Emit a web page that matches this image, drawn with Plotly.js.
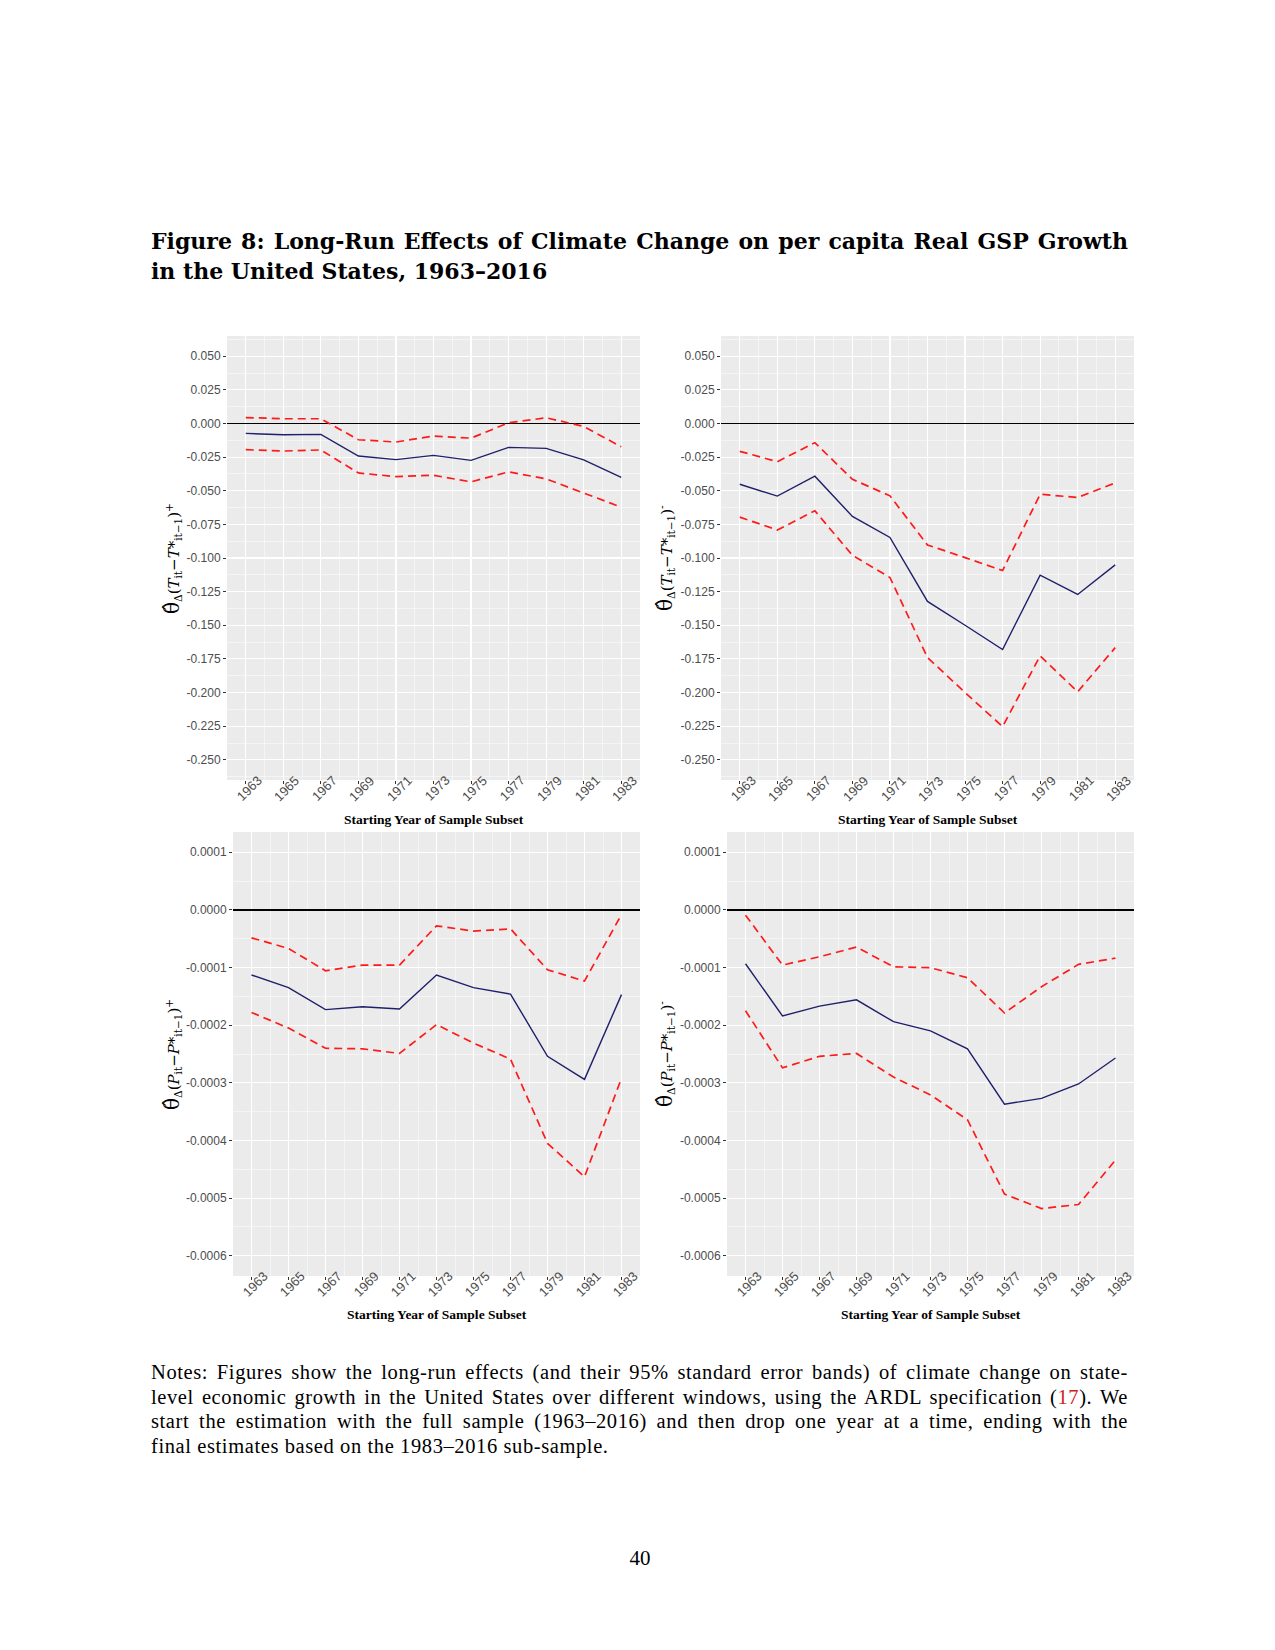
<!DOCTYPE html>
<html>
<head>
<meta charset="utf-8">
<script src="https://cdn.plot.ly/plotly-3.0.1.min.js"></script>
<style>
  html, body { margin: 0; padding: 0; background: #ffffff; }
  #page { position: relative; width: 1275px; height: 1650px; overflow: hidden; background: #fff; }
  #chart { position: absolute; left: 0; top: 0; width: 1275px; height: 1650px; }
  .txt { position: absolute; z-index: 5; color: #000; }
  #title { left: 151px; top: 226px; width: 977px; font-family: 'DejaVu Serif', 'Liberation Serif', serif; font-weight: bold; font-size: 22px; line-height: 30px; }
  #notes { left: 151px; top: 1360px; width: 977px; font-family: 'Liberation Serif', 'Times New Roman', serif; font-size: 20.5px; letter-spacing: 0.6px; line-height: 24.7px; }
  .jl { text-align: justify; text-align-last: justify; white-space: nowrap; }
  .ll { text-align: left; white-space: nowrap; }
  .red { color: #cc2222; }
  #pagenum { left: 600px; top: 1546px; width: 80px; text-align: center; font-family: 'Liberation Serif', 'Times New Roman', serif; font-size: 21px; }
</style>
</head>
<body>
<div id="page">
  <div id="chart"></div>
  <div id="title" class="txt">
    <div class="jl">Figure 8: Long-Run Effects of Climate Change on per capita Real GSP Growth</div>
    <div class="ll">in the United States, 1963–2016</div>
  </div>
  <div id="notes" class="txt">
    <div class="jl">Notes: Figures show the long-run effects (and their 95% standard error bands) of climate change on state-</div>
    <div class="jl">level economic growth in the United States over different windows, using the ARDL specification (<span class="red">17</span>). We</div>
    <div class="jl">start the estimation with the full sample (1963–2016) and then drop one year at a time, ending with the</div>
    <div class="ll">final estimates based on the 1983–2016 sub-sample.</div>
  </div>
  <div id="pagenum" class="txt">40</div>
</div>
<script>
// ---------- data ----------
const years = [1963, 1965, 1967, 1969, 1971, 1973, 1975, 1977, 1979, 1981, 1983];

// Panel 1: temperature, positive deviations
const tPosEst   = [-0.0074, -0.0084, -0.0081, -0.0242, -0.0269, -0.0237, -0.0274, -0.0178, -0.0185, -0.0271, -0.0400];
const tPosUpper = [ 0.0044,  0.0035,  0.0035, -0.0121, -0.0138, -0.0094, -0.0109,  0.0005,  0.0042, -0.0022, -0.0173];
const tPosLower = [-0.0195, -0.0205, -0.0197, -0.0368, -0.0395, -0.0385, -0.0434, -0.0360, -0.0412, -0.0518, -0.0622];

// Panel 2: temperature, negative deviations
const tNegEst   = [-0.0452, -0.0540, -0.0392, -0.0691, -0.0847, -0.1323, -0.1500, -0.1680, -0.1128, -0.1271, -0.1051];
const tNegUpper = [-0.0207, -0.0284, -0.0143, -0.0415, -0.0538, -0.0903, -0.0997, -0.1093, -0.0526, -0.0550, -0.0442];
const tNegLower = [-0.0696, -0.0792, -0.0649, -0.0980, -0.1145, -0.1740, -0.2000, -0.2253, -0.1727, -0.1994, -0.1666];

// Panel 3: precipitation, positive deviations
const pPosEst   = [-0.000113, -0.000135, -0.000173, -0.000168, -0.000172, -0.000113, -0.000135, -0.000146, -0.000254, -0.000294, -0.000147];
const pPosUpper = [-0.0000485, -0.000067, -0.0001056, -0.0000958, -0.0000958, -0.0000277, -0.0000369, -0.0000329, -0.0001039, -0.0001235, -0.0000081];
const pPosLower = [-0.000178, -0.000205, -0.000240, -0.000241, -0.000249, -0.000199, -0.000231, -0.000259, -0.000405, -0.000463, -0.000292];

// Panel 4: precipitation, negative deviations
const pNegEst   = [-0.0000935, -0.000184, -0.000167, -0.000156, -0.000194, -0.000210, -0.000241, -0.000337, -0.000327, -0.000302, -0.000257];
const pNegUpper = [-0.0000092, -0.0000958, -0.0000814, -0.0000646, -0.0000987, -0.0001004, -0.0001177, -0.0001789, -0.0001333, -0.0000946, -0.0000837];
const pNegLower = [-0.000175, -0.000274, -0.000254, -0.000249, -0.000290, -0.000321, -0.000364, -0.000493, -0.000518, -0.000511, -0.000434];

// tick labels
const xTickLabels = ["1963", "1965", "1967", "1969", "1971", "1973", "1975", "1977", "1979", "1981", "1983"];
const yTicksTop = [0.05, 0.025, 0, -0.025, -0.05, -0.075, -0.1, -0.125, -0.15, -0.175, -0.2, -0.225, -0.25];
const yTickTextTop = ["0.050", "0.025", "0.000", "-0.025", "-0.050", "-0.075", "-0.100", "-0.125", "-0.150", "-0.175", "-0.200", "-0.225", "-0.250"];
const yTicksBottom = [0.0001, 0, -0.0001, -0.0002, -0.0003, -0.0004, -0.0005, -0.0006];
const yTickTextBottom = ["0.0001", "0.0000", "-0.0001", "-0.0002", "-0.0003", "-0.0004", "-0.0005", "-0.0006"];

const xAxisTitle = "Starting Year of Sample Subset";
const TH = '<span style="font-size:20px">θ̂</span>';
const yTitles = [
  TH + '<sub>Δ</sub>(<i>T</i><sub>it</sub>−<i>T</i>*<sub>it−1</sub>)<sup>+</sup>',
  TH + '<sub>Δ</sub>(<i>T</i><sub>it</sub>−<i>T</i>*<sub>it−1</sub>)<sup>-</sup>',
  TH + '<sub>Δ</sub>(<i>P</i><sub>it</sub>−<i>P</i>*<sub>it−1</sub>)<sup>+</sup>',
  TH + '<sub>Δ</sub>(<i>P</i><sub>it</sub>−<i>P</i>*<sub>it−1</sub>)<sup>-</sup>'
];

// ---------- layout geometry (pixels) ----------
const W = 1275, H = 1650;
const panels = [
  {x0: 227, x1: 640,  y0: 336, y1: 780,  yt: 172},
  {x0: 721, x1: 1134, y0: 336, y1: 780,  yt: 665},
  {x0: 233, x1: 640,  y0: 832, y1: 1276, yt: 172},
  {x0: 727, x1: 1134, y0: 832, y1: 1276, yt: 665}
];
const xTitleY = [819, 819, 1314, 1314];

const series = [
  [tPosEst, tPosUpper, tPosLower],
  [tNegEst, tNegUpper, tNegLower],
  [pPosEst, pPosUpper, pPosLower],
  [pNegEst, pNegUpper, pNegLower]
];

const estColor = '#1f1f6b';
const bandColor = '#ff1a1a';

const minorX = [];
for (let y = 1962; y <= 1984; y += 2) minorX.push(y);
const minorYTop = [];
for (let i = 0; i < yTicksTop.length + 1; i++) minorYTop.push(0.0625 - 0.025 * i);
const minorYBottom = [];
for (let i = 0; i < yTicksBottom.length - 1; i++) minorYBottom.push(0.00005 - 0.0001 * i);

const tickFont = {family: 'Liberation Sans, Arial, sans-serif', size: 12, color: '#4d4d4d'};
const xTickFont = {family: 'Liberation Sans, Arial, sans-serif', size: 13, color: '#4d4d4d'};

const traces = [];
const layout = {
  width: W, height: H,
  margin: {l: 0, r: 0, t: 0, b: 0},
  paper_bgcolor: 'rgba(0,0,0,0)',
  plot_bgcolor: '#EBEBEB',
  showlegend: false,
  hovermode: false,
  annotations: []
};

panels.forEach((p, i) => {
  const n = i === 0 ? '' : String(i + 1);
  const xa = 'x' + n, ya = 'y' + n;
  const top = i < 2;
  layout['xaxis' + n] = {
    domain: [p.x0 / W, p.x1 / W],
    anchor: ya,
    range: [1962, 1984],
    tickmode: 'array', tickvals: years, ticktext: xTickLabels,
    showticklabels: false,
    ticks: 'outside', ticklen: 3, tickwidth: 1, tickcolor: '#333333',
    showgrid: true, gridcolor: '#ffffff', gridwidth: 1.1,
    zeroline: false, showline: false, fixedrange: true,
    minor: {tickmode: 'array', tickvals: minorX, showgrid: true, gridcolor: '#ffffff', gridwidth: 0.5, ticks: ''}
  };
  layout['yaxis' + n] = {
    domain: [1 - p.y1 / H, 1 - p.y0 / H],
    anchor: xa,
    range: top ? [-0.265, 0.065] : [-0.000635, 0.000135],
    tickmode: 'array',
    tickvals: top ? yTicksTop : yTicksBottom,
    ticktext: top ? yTickTextTop : yTickTextBottom,
    ticks: 'outside', ticklen: 3, tickwidth: 1, tickcolor: '#333333',
    tickfont: tickFont,
    showgrid: true, gridcolor: '#ffffff', gridwidth: 1.1,
    zeroline: true, zerolinecolor: '#000000', zerolinewidth: 1.4,
    showline: false, fixedrange: true,
    minor: {tickmode: 'array', tickvals: top ? minorYTop : minorYBottom, showgrid: true, gridcolor: '#ffffff', gridwidth: 0.5, ticks: ''}
  };
  const [est, up, lo] = series[i];
  traces.push({x: years, y: lo, xaxis: xa, yaxis: ya, mode: 'lines', line: {color: bandColor, width: 1.7, dash: '8px,5px'}});
  traces.push({x: years, y: up, xaxis: xa, yaxis: ya, mode: 'lines', line: {color: bandColor, width: 1.7, dash: '8px,5px'}});
  traces.push({x: years, y: est, xaxis: xa, yaxis: ya, mode: 'lines', line: {color: estColor, width: 1.4}});

  // rotated x tick labels, centred under each tick (ggplot style)
  years.forEach((yr, k) => {
    layout.annotations.push({
      xref: xa, yref: 'paper',
      x: yr, y: 1 - p.y1 / H,
      xshift: 3.5, yshift: -8.5,
      xanchor: 'center', yanchor: 'middle', showarrow: false,
      textangle: -45,
      text: xTickLabels[k],
      font: xTickFont
    });
  });

  layout.annotations.push({
    xref: 'paper', yref: 'paper',
    x: ((p.x0 + p.x1) / 2) / W, y: 1 - xTitleY[i] / H,
    xanchor: 'center', yanchor: 'middle', showarrow: false,
    text: '<b>' + xAxisTitle + '</b>',
    font: {family: 'Liberation Serif, Times New Roman, serif', size: 13.5, color: '#000'}
  });
  layout.annotations.push({
    xref: 'paper', yref: 'paper',
    x: p.yt / W, y: 1 - ((p.y0 + p.y1) / 2) / H,
    xanchor: 'center', yanchor: 'middle', showarrow: false,
    textangle: -90,
    text: yTitles[i],
    font: {family: 'DejaVu Serif, Liberation Serif, serif', size: 15, color: '#000'}
  });
});

Plotly.newPlot('chart', traces, layout, {displayModeBar: false, staticPlot: true});
</script>
</body>
</html>
